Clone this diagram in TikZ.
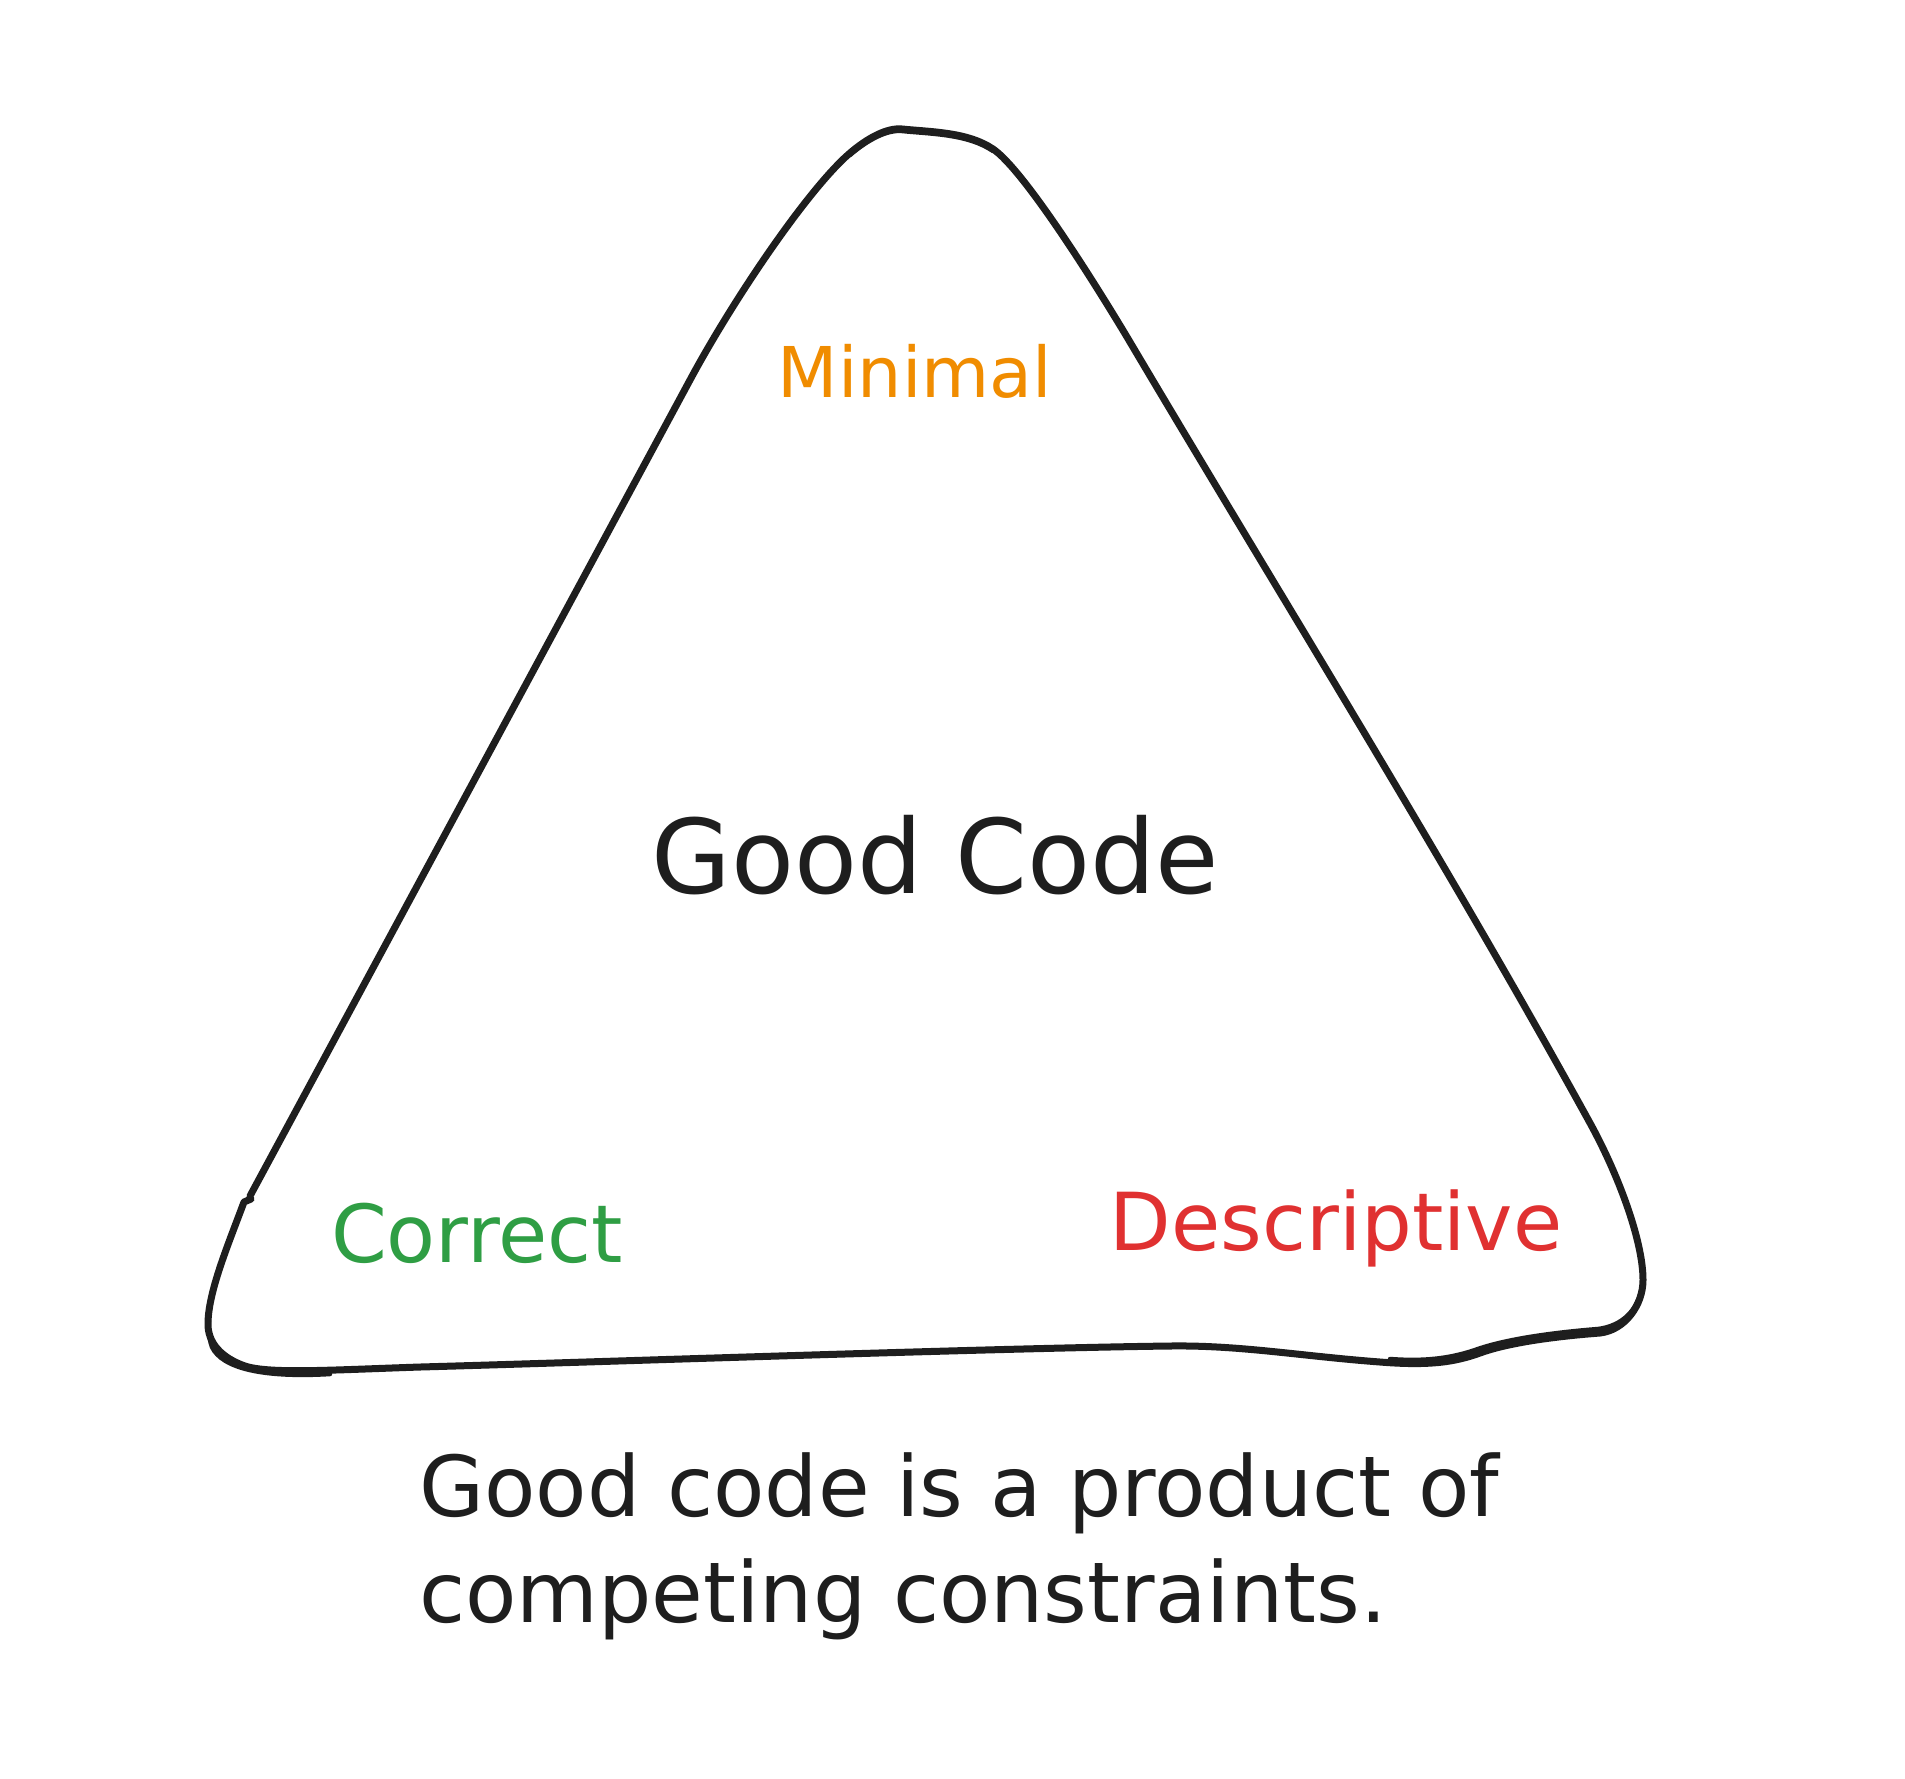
\documentclass[tikz,border=0pt]{standalone}
\usepackage{fontspec}
\setmainfont{DejaVu Sans}
\definecolor{ink}{HTML}{1E1E1E}
\definecolor{orangeink}{HTML}{F08C00}
\definecolor{greenink}{HTML}{2F9E44}
\definecolor{redink}{HTML}{E03131}
\tikzset{
  outline/.style={draw=ink, line width=7pt, line cap=round, line join=round},
  outlinetwo/.style={draw=ink, line width=4.5pt, line cap=round, line join=round},
  label/.style={inner sep=0pt, anchor=base},
  caption/.style={inner sep=0pt, anchor=base west, text=ink, font=\fontsize{84}{100}\selectfont}
}
\begin{document}
\begin{tikzpicture}[x=1pt, y=-1pt]
\useasboundingbox[fill=white] (0,0) rectangle (1905,1778);
% triangle outline
\draw[outline]
  (250,1196) -- (690,380)
  .. controls (733,300) and (808,189) .. (850,153)
  .. controls (867.5,138) and (887,127.5) .. (902,129)
  .. controls (932,132) and (968,132) .. (993,149)
  .. controls (1023,169.4) and (1091,277) .. (1127,337)
  .. controls (1281,597) and (1447,863) .. (1590,1123)
  .. controls (1617.5,1173) and (1643,1240) .. (1643,1280)
  .. controls (1643,1305) and (1625,1330) .. (1600,1333)
  .. controls (1560,1336) and (1510,1342) .. (1480,1353)
  .. controls (1455,1362) and (1430,1366) .. (1380,1362)
  .. controls (1300,1356) and (1240,1345) .. (1170,1346)
  .. controls (1000,1348) and (600,1362) .. (420,1367)
  .. controls (330,1370) and (270,1374) .. (245,1366)
  .. controls (222,1358) and (207,1343) .. (208,1322)
  .. controls (209,1290) and (228,1245) .. (244,1202)
  -- (251,1199);
% second strokes (sketchy double line)
\draw[outlinetwo]
  (1642,1285) .. controls (1639,1310) and (1622,1326) .. (1598,1329)
  .. controls (1560,1332) and (1510,1338) .. (1478,1349)
  .. controls (1455,1357) and (1430,1362) .. (1390,1359);
\draw[outlinetwo]
  (220,1266) .. controls (212,1290) and (204,1325) .. (212,1347)
  .. controls (222,1368) and (262,1378) .. (330,1374);
\draw[outlinetwo, shift={(0,2)}]
  (850,153) .. controls (867.5,138) and (887,127.5) .. (902,129)
  .. controls (932,132) and (968,132) .. (993,149);
% labels
\node[label, text=orangeink, font=\fontsize{70}{84}\selectfont] (minimal) at (915,397) {Minimal};
\node[label, text=greenink, font=\fontsize{80}{96}\selectfont] (correct) at (477,1262) {Correct};
\node[label, text=redink, font=\fontsize{80}{96}\selectfont] (descriptive) at (1336,1250) {Descriptive};
\node[label, text=ink, font=\fontsize{103}{124}\selectfont] (goodcode) at (935,893) {Good Code};
\node[caption] (cap1) at (419,1516) {Good code is a product of};
\node[caption] (cap2) at (419,1622) {competing constraints.};
\end{tikzpicture}
\end{document}
